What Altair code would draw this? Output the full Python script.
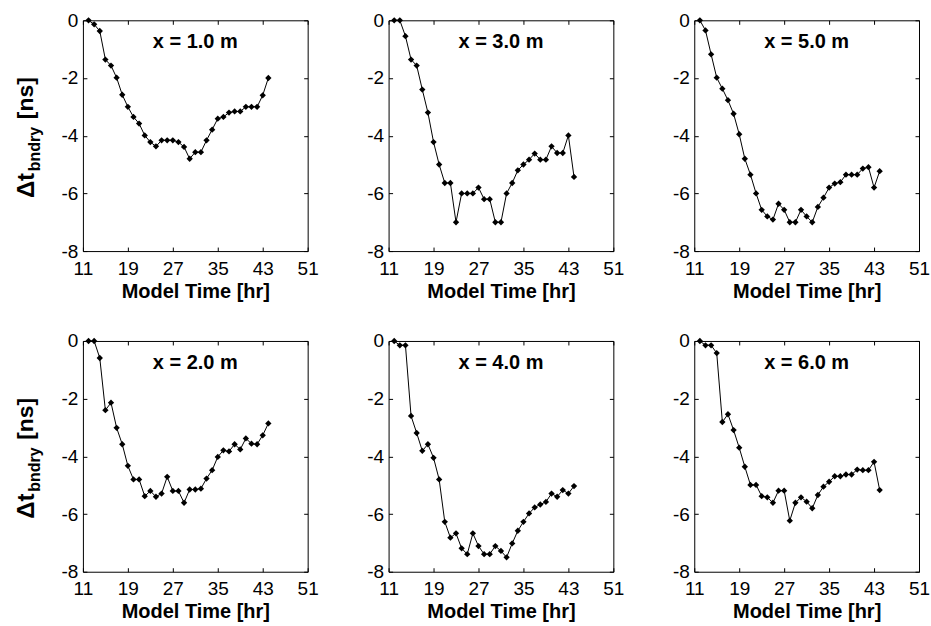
import altair as alt
import pandas as pd

# ---- data ----
hours = list(range(12, 45))  # model time [hr]

dt_x1 = [0, -0.14, -0.37, -1.36, -1.57, -1.99, -2.58, -3.0, -3.35, -3.58, -3.99,
         -4.22, -4.37, -4.16, -4.16, -4.16, -4.22, -4.39, -4.8, -4.57, -4.57, -4.16,
         -3.79, -3.41, -3.35, -3.2, -3.16, -3.16, -3.0, -3.0, -3.0, -2.6, -2.0]
dt_x3 = [0, 0, -0.55, -1.36, -1.57, -2.4, -3.2, -4.22, -5.0, -5.64, -5.64,
         -7.0, -6.0, -6.0, -6.0, -5.8, -6.2, -6.2, -7.0, -7.0, -6.0, -5.64,
         -5.2, -5.0, -4.83, -4.62, -4.83, -4.83, -4.37, -4.6, -4.6, -3.99, -5.43]
dt_x5 = [0, -0.35, -1.18, -1.99, -2.37, -2.77, -3.24, -3.95, -4.8, -5.35, -6.0,
         -6.57, -6.8, -6.91, -6.36, -6.57, -7.0, -7.0, -6.57, -6.8, -7.0, -6.47,
         -6.15, -5.8, -5.66, -5.61, -5.35, -5.35, -5.35, -5.14, -5.09, -5.8, -5.23]
dt_x2 = [0, 0, -0.59, -2.4, -2.14, -3.01, -3.58, -4.33, -4.8, -4.8, -5.38,
         -5.2, -5.4, -5.29, -4.71, -5.2, -5.2, -5.61, -5.15, -5.15, -5.12, -4.77,
         -4.48, -4.02, -3.79, -3.83, -3.58, -3.76, -3.38, -3.56, -3.58, -3.27, -2.86]
dt_x4 = [0, -0.15, -0.15, -2.6, -3.19, -3.81, -3.58, -4.05, -4.8, -6.27, -6.82,
         -6.67, -7.19, -7.39, -6.67, -7.11, -7.39, -7.39, -7.11, -7.28, -7.5, -7.02,
         -6.58, -6.27, -5.98, -5.77, -5.67, -5.58, -5.29, -5.4, -5.17, -5.29, -5.03]
dt_x6 = [0, -0.15, -0.15, -0.42, -2.81, -2.54, -3.09, -3.7, -4.36, -4.99, -4.99,
         -5.38, -5.42, -5.61, -5.19, -5.19, -6.23, -5.61, -5.42, -5.57, -5.8, -5.34,
         -5.05, -4.88, -4.69, -4.69, -4.63, -4.63, -4.46, -4.48, -4.48, -4.19, -5.17]

panel_labels = ["x = 1.0 m", "x = 3.0 m", "x = 5.0 m", "x = 2.0 m", "x = 4.0 m", "x = 6.0 m"]
panel_values = [dt_x1, dt_x3, dt_x5, dt_x2, dt_x4, dt_x6]

x_ticks = [11, 19, 27, 35, 43, 51]
y_ticks = [-8, -6, -4, -2, 0]
x_title = "Model Time [hr]"
y_title_parts = ["Δt", "bndry", "[ns]"]

# ---- styling ----
W, H = 225, 231
FONT = "Liberation Sans"


def panel(label, values, left):
    df = pd.DataFrame({"t": hours, "dt": values})
    base = alt.Chart(df)
    xs = alt.Scale(domain=[11, 51], nice=False, zero=False)
    ys = alt.Scale(domain=[-8, 0], nice=False, zero=False)

    line = base.mark_line(color="black", strokeWidth=1).encode(
        x=alt.X("t:Q", scale=xs,
                axis=alt.Axis(orient="bottom", values=x_ticks, title=x_title,
                              offset=-4, tickSize=4, labelPadding=8, titlePadding=3,
                              labelExpr="'' + datum.value")),
        y=alt.Y("dt:Q", scale=ys,
                axis=alt.Axis(orient="left", values=y_ticks, title=None,
                              offset=-4, tickSize=4, labelPadding=5,
                              labelExpr="'' + datum.value")),
    )
    pts = base.mark_point(shape="diamond", filled=True, color="black",
                          size=40, opacity=1).encode(
        x=alt.X("t:Q", scale=xs,
                axis=alt.Axis(orient="top", values=x_ticks, labels=False, title=None,
                              offset=-4, tickSize=4)),
        y=alt.Y("dt:Q", scale=ys,
                axis=alt.Axis(orient="right", values=y_ticks, labels=False, title=None,
                              offset=-4, tickSize=4)),
    )
    lbl = alt.Chart(pd.DataFrame({"label": [label]})).mark_text(
        font=FONT, fontSize=20, fontWeight="bold", baseline="alphabetic",
        align="center", color="black"
    ).encode(text="label:N", x=alt.value(W / 2), y=alt.value(28))

    layers = [line, pts, lbl]
    if left:
        specs = [
            (y_title_parts[0], 24, -49, 178),
            (y_title_parts[1], 16, -43, 151),
            (y_title_parts[2], 23, -50, 99),
        ]
        for txt, fs, px, py in specs:
            layers.append(
                alt.Chart(pd.DataFrame({"s": [txt]})).mark_text(
                    font=FONT, fontSize=fs, fontWeight="bold", angle=270,
                    align="left", baseline="alphabetic", color="black"
                ).encode(text="s:N", x=alt.value(px), y=alt.value(py))
            )
    return alt.layer(*layers).resolve_axis(x="independent", y="independent").properties(
        width=W, height=H)


charts = [panel(l, v, i % 3 == 0) for i, (l, v) in enumerate(zip(panel_labels, panel_values))]

chart = alt.concat(*charts, columns=3, spacing={"row": 90, "column": 81}, bounds="flush").properties(
    padding={"left": 14, "top": 10, "right": 0, "bottom": 0},
    background="white",
).configure_view(
    stroke="black", strokeWidth=1
).configure_axis(
    domain=False, grid=False,
    labelFont=FONT, labelFontSize=19, labelColor="black",
    titleFont=FONT, titleFontSize=20, titleFontWeight="bold", titleColor="black",
    tickColor="black", tickWidth=1,
    labelFlush=False, labelOverlap=False,
)

chart.save("out.html", embed_options={"renderer": "svg", "actions": False})
